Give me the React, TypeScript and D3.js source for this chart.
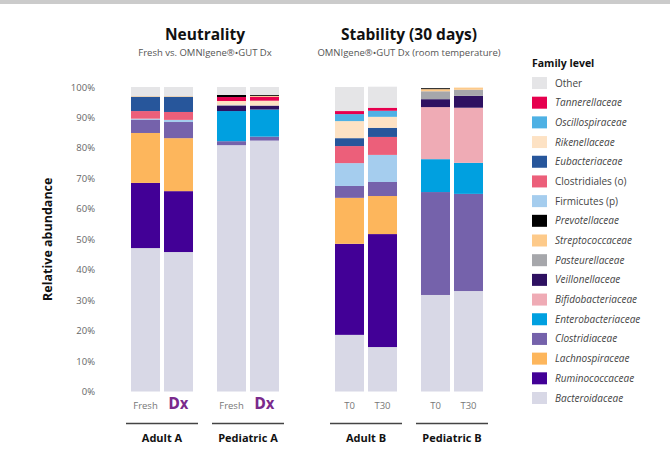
import React, { useEffect, useRef } from 'react';
import * as d3 from 'd3';

// samples, left to right
const samples = ['AdultA-Fresh', 'AdultA-Dx', 'PedA-Fresh', 'PedA-Dx', 'AdultB-T0', 'AdultB-T30', 'PedB-T0', 'PedB-T30'];
const sampleLabels = ['Fresh', 'Dx', 'Fresh', 'Dx', 'T0', 'T30', 'T0', 'T30'];
const sampleGroup = ['Adult A', 'Adult A', 'Pediatric A', 'Pediatric A', 'Adult B', 'Adult B', 'Pediatric B', 'Pediatric B'];
const groups = ['Adult A', 'Pediatric A', 'Adult B', 'Pediatric B'];
const groupSection = ['Neutrality', 'Neutrality', 'Stability', 'Stability'];
const sections = ['Neutrality', 'Stability'];
const sectionTitles = ['Neutrality', 'Stability (30 days)'];
const sectionSubtitles = ['Fresh vs. OMNIgene®•GUT Dx', 'OMNIgene®•GUT Dx (room temperature)'];
const yTicks = [0, 10, 20, 30, 40, 50, 60, 70, 80, 90, 100];

// relative abundance (%) per family, one value per sample
const bacteroidaceae = [47.1, 45.8, 80.9, 82.4, 18.6, 14.6, 31.7, 33.0];
const ruminococcaceae = [21.4, 20.0, 0, 0, 29.9, 37.1, 0, 0];
const lachnospiraceae = [16.4, 17.4, 0, 0, 15.1, 12.5, 0, 0];
const clostridiaceae = [4.4, 5.3, 1.3, 1.3, 3.9, 4.6, 33.8, 31.9];
const enterobacteriaceae = [0, 0, 9.9, 8.9, 0, 0, 10.8, 10.2];
const bifidobacteriaceae = [0, 0, 0, 0, 0, 0, 17.1, 18.1];
const veillonellaceae = [0, 0, 1.8, 1.3, 0, 0, 2.6, 3.9];
const pasteurellaceae = [0, 0, 0.3, 0, 0, 0, 2.6, 2.0];
const firmicutes = [0.3, 0.7, 0, 0, 7.5, 8.9, 0, 0];
const clostridiales = [2.5, 2.6, 0, 0, 5.6, 5.9, 0, 0];
const eubacteriaceae = [4.7, 5.0, 0, 0, 2.6, 3.0, 0, 0];
const rikenellaceae = [0, 0, 1.2, 1.6, 5.6, 3.6, 0, 0];
const oscillospiraceae = [0, 0, 0, 0, 2.3, 2.0, 0, 0];
const tannerellaceae = [0, 0, 1.3, 1.3, 1.0, 1.0, 0, 0];
const streptococcaceae = [0.2, 0.2, 0, 0.3, 0, 0, 0.7, 0.7];
const prevotellaceae = [0, 0, 0.7, 0.3, 0, 0, 0.3, 0];
const other = [3.0, 3.0, 2.6, 2.6, 7.9, 6.9, 0, 0];

// legend, top to bottom
const legendNames = ['Other', 'Tannerellaceae', 'Oscillospiraceae', 'Rikenellaceae', 'Eubacteriaceae', 'Clostridiales (o)',
  'Firmicutes (p)', 'Prevotellaceae', 'Streptococcaceae', 'Pasteurellaceae', 'Veillonellaceae', 'Bifidobacteriaceae',
  'Enterobacteriaceae', 'Clostridiaceae', 'Lachnospiraceae', 'Ruminococcaceae', 'Bacteroidaceae'];
const legendColors = ['#e5e5e7', '#e6004e', '#4eb1e4', '#fde2c4', '#27569b', '#ec5f7a',
  '#a5cdee', '#000000', '#fdca8a', '#a6a7ab', '#2e1161', '#efabb5',
  '#00a0e0', '#7562ab', '#fdb65c', '#420096', '#d8d8e6'];
const notItalic = ['Other', 'Clostridiales (o)', 'Firmicutes (p)'];

// stacking order, bottom to top
const stackNames = ['Bacteroidaceae', 'Ruminococcaceae', 'Lachnospiraceae', 'Clostridiaceae', 'Enterobacteriaceae',
  'Bifidobacteriaceae', 'Veillonellaceae', 'Pasteurellaceae', 'Firmicutes (p)', 'Clostridiales (o)', 'Eubacteriaceae',
  'Rikenellaceae', 'Oscillospiraceae', 'Tannerellaceae', 'Streptococcaceae', 'Prevotellaceae', 'Other'];
const stackValues = [bacteroidaceae, ruminococcaceae, lachnospiraceae, clostridiaceae, enterobacteriaceae,
  bifidobacteriaceae, veillonellaceae, pasteurellaceae, firmicutes, clostridiales, eubacteriaceae,
  rikenellaceae, oscillospiraceae, tannerellaceae, streptococcaceae, prevotellaceae, other];

const FONT = "'Open Sans', 'Noto Sans', sans-serif";
const NARROW = "'Liberation Sans Narrow', 'DejaVu Sans Condensed', sans-serif";

const AbundanceChart = () => {
  const svgRef = useRef(null);

  useEffect(() => {
    document.body.style.margin = '0';
    const width = 670;
    const height = 470;
    const svg = d3.select(svgRef.current).attr('width', width).attr('height', height);
    svg.selectAll('*').remove();

    // top grey strip
    svg.append('rect').attr('x', 0).attr('y', 0).attr('width', width).attr('height', 4).attr('fill', '#cbcbcb');

    const table = samples.map((s, i) => {
      const row: any = { sample: s };
      stackNames.forEach((n, k) => { row[n] = stackValues[k][i]; });
      return row;
    });
    const series = d3.stack().keys(stackNames)(table);
    const color = d3.scaleOrdinal<string, string>().domain(legendNames).range(legendColors);

    const y = d3.scaleLinear().domain([0, 100]).range([391.5, 87]);

    // nested band scales: section -> group -> sample
    const xSection = d3.scaleBand().domain(sections).range([131, 483]).paddingInner(0.2745);
    const xGroup = d3.scaleBand().domain(['0', '1']).range([0, xSection.bandwidth()]).paddingInner(0.279);
    const xBar = d3.scaleBand().domain(['0', '1']).range([0, xGroup.bandwidth()]).paddingInner(0.121);

    const groupX = (g: string) => {
      const gi = groups.indexOf(g);
      const sec = groupSection[gi];
      const idx = groups.filter((_, j) => groupSection[j] === sec).indexOf(g);
      return (xSection(sec) as number) + (xGroup(String(idx)) as number);
    };
    const barX = (i: number) => {
      const g = sampleGroup[i];
      const idx = samples.filter((_, j) => sampleGroup[j] === g).indexOf(samples[i]);
      return groupX(g) + (xBar(String(idx)) as number);
    };

    // bars
    svg.append('g')
      .selectAll('g')
      .data(series)
      .join('g')
      .attr('fill', (d) => color(d.key))
      .selectAll('rect')
      .data((d) => d.map((v, i) => ({ v, i })))
      .join('rect')
      .attr('x', (d) => barX(d.i))
      .attr('y', (d) => y(d.v[1]))
      .attr('width', xBar.bandwidth())
      .attr('height', (d) => Math.max(0, y(d.v[0]) - y(d.v[1])));

    // y axis labels
    const yAxis = svg.append('g').attr('transform', 'translate(95,0)')
      .call(d3.axisLeft(y).tickValues(yTicks).tickSize(0).tickPadding(0).tickFormat((d) => `${d}%`));
    yAxis.select('.domain').remove();
    yAxis.selectAll('text').attr('font-family', FONT).attr('font-size', 9.5).attr('fill', '#666');

    svg.append('text')
      .attr('transform', `translate(52, ${y(50)}) rotate(-90)`)
      .attr('text-anchor', 'middle')
      .attr('font-family', FONT)
      .attr('font-size', 12.5)
      .attr('font-weight', 'bold')
      .attr('fill', '#111')
      .text('Relative abundance');

    // sample labels
    samples.forEach((s, i) => {
      const isDx = sampleLabels[i] === 'Dx';
      svg.append('text')
        .attr('x', barX(i) + xBar.bandwidth() / 2)
        .attr('y', 409)
        .attr('text-anchor', 'middle')
        .attr('font-family', isDx ? NARROW : FONT)
        .attr('font-size', isDx ? 15 : 9.5)
        .attr('font-weight', isDx ? 'bold' : 'normal')
        .attr('fill', isDx ? '#7a2a8c' : '#777')
        .text(sampleLabels[i]);
    });

    // group underline and labels
    groups.forEach((g) => {
      const x0 = groupX(g);
      svg.append('line')
        .attr('x1', x0 - 5).attr('x2', x0 + xGroup.bandwidth() + 5)
        .attr('y1', 423.5).attr('y2', 423.5)
        .attr('stroke', '#444').attr('stroke-width', 1.5);
      svg.append('text')
        .attr('x', x0 + xGroup.bandwidth() / 2)
        .attr('y', 442)
        .attr('text-anchor', 'middle')
        .attr('font-family', FONT)
        .attr('font-size', 11)
        .attr('font-weight', 'bold')
        .attr('fill', '#111')
        .text(g);
    });

    // section titles
    sections.forEach((sec, i) => {
      const cx = (xSection(sec) as number) + xSection.bandwidth() / 2;
      svg.append('text')
        .attr('x', cx).attr('y', 40)
        .attr('text-anchor', 'middle')
        .attr('font-family', FONT)
        .attr('font-size', 15.5)
        .attr('font-weight', 'bold')
        .attr('fill', '#111')
        .text(sectionTitles[i]);
      svg.append('text')
        .attr('x', cx).attr('y', 55.5)
        .attr('text-anchor', 'middle')
        .attr('font-family', FONT)
        .attr('font-size', 9.5)
        .attr('fill', '#555')
        .text(sectionSubtitles[i]);
    });

    // legend
    const legend = svg.append('g').attr('transform', 'translate(532,0)');
    legend.append('text')
      .attr('x', 0).attr('y', 67)
      .attr('font-family', FONT)
      .attr('font-size', 10.5)
      .attr('font-weight', 'bold')
      .attr('fill', '#111')
      .text('Family level');
    const ly = d3.scalePoint().domain(legendNames).range([83, 398]);
    const item = legend.selectAll('g.item')
      .data(legendNames)
      .join('g')
      .attr('class', 'item')
      .attr('transform', (d) => `translate(0, ${ly(d)})`);
    item.append('rect')
      .attr('x', 0).attr('y', -6)
      .attr('width', 15).attr('height', 12)
      .attr('fill', (d) => color(d));
    item.append('text')
      .attr('x', 23).attr('y', 3.5)
      .attr('font-family', FONT)
      .attr('font-size', 10)
      .attr('font-style', (d) => (notItalic.includes(d) ? 'normal' : 'italic'))
      .attr('fill', '#444')
      .text((d) => d);
  }, []);

  return <svg ref={svgRef} style={{ display: 'block' }} />;
};

export default function App() {
  return <AbundanceChart />;
}
